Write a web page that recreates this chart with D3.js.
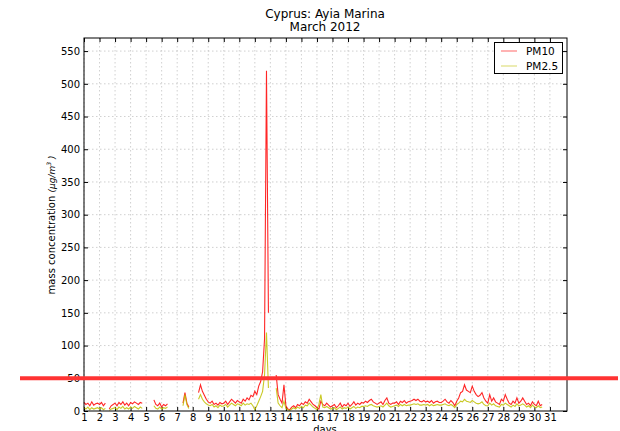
<!DOCTYPE html>
<html>
<head>
<meta charset="utf-8">
<script src="https://cdn.jsdelivr.net/npm/d3@7"></script>
<style>
  body { margin: 0; background: #fff; }
  svg { font-family: "DejaVu Sans", sans-serif; }
</style>
</head>
<body>
<script>
var WIDTH = 620,
    HEIGHT = 431;

// 3-hourly samples from day 1.0, null = no data
var startDay = 1,
    stepDay = 0.125;

var pm10 = [
  13, 10, 12, 8, 14, 9, 11, 12,
  10, 13, 8, 12, null, 3, 8, 10,
  12, 8, 13, 10, 14, 9, 12, 8,
  13, 11, 14, 12, 10, 13, 12, null,
  null, null, null, null, 17, 10, 8, 12,
  6, 10, 8, 11, null, null, null, null,
  null, null, null, 12, 28, 12, 6, null,
  null, null, null, 28, 40, 30, 24, 18,
  14, 12, 15, 10, 12, 9, 13, 11,
  12, 15, 10, 14, 18, 15, 12, 16,
  14, 12, 18, 15, 20, 17, 24, 22,
  30, 25, 38, 45, 60, 110, 520, 150,
  null, null, null, 55, 25, 18, 12, 40,
  8, 3, 2, 6, 8, 5, 10, 8,
  12, 10, 14, 12, 18, 14, 10, 8,
  5, 3, 15, 10, 8, 12, 9, 6,
  8, 10, 5, 8, 12, 6, 10, 8,
  12, 7, 10, 14, 9, 12, 10, 13,
  12, 15, 13, 16, 18, 14, 12, 10,
  12, 14, 10, 16, 20, 12, 10, 12,
  12, 14, 10, 15, 13, 16, 12, 14,
  15, 16, 18, 16, 18, 15, 14, 16,
  14, 15, 13, 16, 12, 14, 15, 13,
  13, 15, 18, 14, 12, 16, 13, 8,
  15, 20, 28, 30, 40, 32, 30, 28,
  38, 30, 25, 22, 24, 28, 20, 15,
  12, 25, 15, 20, 14, 12, 10, 18,
  15, 25, 18, 12, 10, 15, 12, 20,
  12, 15, 20, 15, 10, 12, 8, 14,
  10, 8, 15, 8, 10
];

var pm25 = [
  5, 3, 6, 2, 5, 3, 4, 5,
  3, 5, 2, 4, null, 1, 3, 4,
  5, 2, 6, 4, 7, 3, 5, 3,
  6, 4, 7, 5, 3, 6, 4, null,
  null, null, null, null, 8, 4, 3, 6,
  3, 5, 4, 6, null, null, null, null,
  null, null, null, 8, 25, 10, 4, null,
  null, null, null, 18, 25, 18, 14, 11,
  9, 8, 10, 6, 8, 5, 9, 7,
  8, 10, 6, 9, 12, 10, 8, 11,
  10, 8, 12, 9, 11, 10, 12, 8,
  2, 8, 15, 22, 30, 55, 120, 35,
  null, null, null, 35, 12, 8, 5, 15,
  4, 2, 1, 3, 5, 3, 6, 4,
  7, 5, 9, 8, 12, 9, 6, 4,
  2, 10, 25, 6, 5, 7, 5, 3,
  4, 5, 2, 4, 6, 3, 5, 4,
  6, 3, 5, 7, 4, 6, 5, 7,
  7, 8, 7, 9, 10, 8, 7, 6,
  7, 8, 6, 9, 12, 8, 6, 7,
  8, 9, 7, 10, 8, 10, 8, 9,
  9, 10, 11, 10, 11, 9, 9, 10,
  9, 10, 8, 10, 8, 9, 10, 9,
  9, 10, 11, 9, 8, 10, 8, 5,
  10, 12, 15, 14, 18, 15, 14, 13,
  16, 14, 12, 11, 12, 14, 10, 8,
  8, 12, 9, 11, 8, 7, 6, 10,
  9, 12, 10, 8, 6, 9, 7, 11,
  8, 9, 11, 9, 6, 8, 5, 9,
  6, 5, 8, 5, 6
];

var xTicks = d3.range(1, 32),
    yTicks = d3.range(0, 551, 50),
    limitValue = 50;

var seriesNames = ["PM10", "PM2.5"],
    seriesColors = ["#ff0000", "#bfbf00"];

var margin = {left: 84, right: 53, top: 38, bottom: 20};

var x = d3.scaleLinear().domain([1, 32.1]).range([margin.left, WIDTH - margin.right]),
    y = d3.scaleLinear().domain([0, 570]).range([HEIGHT - margin.bottom, margin.top]);

var svg = d3.select("body").append("svg")
    .attr("width", WIDTH)
    .attr("height", HEIGHT);

// grid
svg.append("g").selectAll("line").data(xTicks).enter().append("line")
  .attr("x1", function(d) { return x(d); })
  .attr("x2", function(d) { return x(d); })
  .attr("y1", y(570)).attr("y2", y(0))
  .attr("stroke", "#b0b0b0").attr("stroke-width", 0.6)
  .attr("stroke-dasharray", "1.5,2.5");

svg.append("g").selectAll("line").data(yTicks.slice(1)).enter().append("line")
  .attr("y1", function(d) { return y(d); })
  .attr("y2", function(d) { return y(d); })
  .attr("x1", x(1)).attr("x2", x(32.1))
  .attr("stroke", "#b0b0b0").attr("stroke-width", 0.6)
  .attr("stroke-dasharray", "1.5,2.5");

// axes with inward ticks
var xAxis = d3.axisBottom(x).tickValues(xTicks).tickSizeInner(-4).tickSizeOuter(0).tickPadding(3);
var yAxis = d3.axisLeft(y).tickValues(yTicks).tickSizeInner(-4).tickSizeOuter(0).tickPadding(4);

var gx = svg.append("g").attr("transform", "translate(0," + y(0) + ")").call(xAxis);
var gy = svg.append("g").attr("transform", "translate(" + x(1) + ",0)").call(yAxis);
svg.append("g").attr("transform", "translate(0," + y(570) + ")")
  .call(d3.axisTop(x).tickValues(xTicks).tickSizeInner(-4).tickSizeOuter(0).tickFormat(""));
svg.append("g").attr("transform", "translate(" + x(32.1) + ",0)")
  .call(d3.axisRight(y).tickValues(yTicks).tickSizeInner(-4).tickSizeOuter(0).tickFormat(""));

svg.selectAll(".domain").remove();
svg.selectAll(".tick text").attr("font-size", 10).attr("fill", "#000")
  .attr("font-family", "DejaVu Sans");

// series
function toPoints(vals) {
  return vals.map(function(v, i) { return {day: startDay + i * stepDay, v: v}; });
}

var line = d3.line()
  .defined(function(d) { return d.v !== null; })
  .x(function(d) { return x(d.day); })
  .y(function(d) { return y(d.v); });

[pm10, pm25].forEach(function(vals, i) {
  svg.append("path")
    .datum(toPoints(vals))
    .attr("d", line)
    .attr("fill", "none")
    .attr("stroke", seriesColors[i])
    .attr("stroke-opacity", 0.85)
    .attr("stroke-width", 1.1);
});

// frame
svg.append("rect")
  .attr("x", x(1)).attr("y", y(570))
  .attr("width", x(32.1) - x(1)).attr("height", y(0) - y(570))
  .attr("fill", "none").attr("stroke", "#000").attr("stroke-width", 1);

// limit line drawn over everything
svg.append("line")
  .attr("x1", 20).attr("x2", 618)
  .attr("y1", y(limitValue)).attr("y2", y(limitValue))
  .attr("stroke", "#ff3333").attr("stroke-width", 4);

// title
svg.append("text").attr("x", 325).attr("y", 18).attr("text-anchor", "middle")
  .attr("font-size", 12).text("Cyprus: Ayia Marina");
svg.append("text").attr("x", 325).attr("y", 31).attr("text-anchor", "middle")
  .attr("font-size", 12).text("March 2012");

// axis labels
svg.append("text").attr("x", 325).attr("y", 433).attr("text-anchor", "middle")
  .attr("font-size", 10).text("days");

var yl = svg.append("text")
  .attr("transform", "translate(55,225) rotate(-90)")
  .attr("text-anchor", "middle").attr("font-size", 10);
yl.append("tspan").text("mass concentration  ");
yl.append("tspan").attr("font-style", "italic").attr("font-size", 9).text("(\u03BCg/m");
yl.append("tspan").attr("font-style", "italic").attr("font-size", 6).attr("dy", -4).text("3");
yl.append("tspan").attr("font-style", "italic").attr("font-size", 9).attr("dy", 4).text(" )");

// legend
var lg = svg.append("g");
lg.append("rect").attr("x", 494.5).attr("y", 42.5).attr("width", 68).attr("height", 31)
  .attr("fill", "#fff").attr("stroke", "#000").attr("stroke-width", 1);
seriesNames.forEach(function(name, i) {
  var ly = 51 + i * 15;
  lg.append("line").attr("x1", 501).attr("x2", 517).attr("y1", ly).attr("y2", ly)
    .attr("stroke", seriesColors[i]).attr("stroke-opacity", 0.5).attr("stroke-width", 1.2);
  lg.append("text").attr("x", 526).attr("y", ly + 4).attr("font-size", 10.5).text(name);
});
</script>
</body>
</html>
